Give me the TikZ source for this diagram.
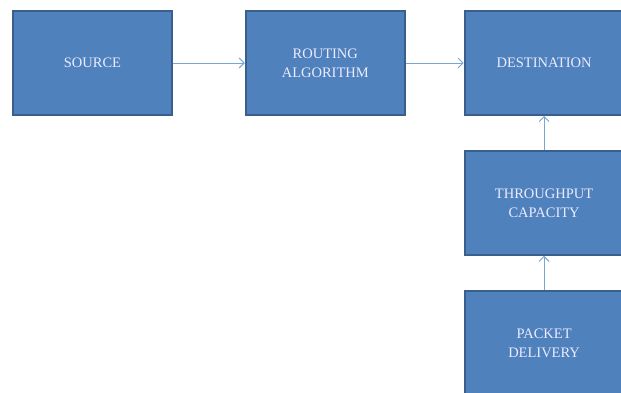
\documentclass[tikz,border=0pt]{standalone}
\usepackage{fontspec}
\setmainfont{Liberation Serif}
\usepackage{xcolor}
\usepackage{tikz}
\usetikzlibrary{shapes,arrows.meta,positioning}

\definecolor{boxblue}{HTML}{4F81BD}
\definecolor{boxedge}{HTML}{3A5F8C}
\definecolor{linkblue}{HTML}{7AA3D6}

\tikzset{
  block/.style={rectangle, draw=boxedge, line width=1.8pt, fill=boxblue, text=white!92!blue,
    minimum width=159pt, minimum height=104pt, align=center,
    font=\fontsize{14.5}{19}\selectfont},
  link/.style={-{Straight Barb[length=5pt,width=10pt,line width=1pt]}, linkblue, line width=1pt}
}

\begin{document}
\begin{tikzpicture}[x=1pt,y=1pt]
	\useasboundingbox (0,0) rectangle (621,-392);
	\clip (0,0) rectangle (621,-392);
	\node[block] (source) at (92.5,-63) {SOURCE};
	\node[block, right=72pt of source] (routing) {ROUTING\\ALGORITHM};
	\node[block, right=58pt of routing] (dest) {DESTINATION};
	\node[block, below=34pt of dest] (through) {THROUGHPUT\\CAPACITY};
	\node[block, below=34.5pt of through] (packet) {PACKET\\DELIVERY};
	
	\draw[link] (source) -- (routing);
	\draw[link] (routing) -- (dest);
	\draw[link] (through) -- (dest);
	\draw[link] (packet) -- (through);
\end{tikzpicture}
\end{document}
